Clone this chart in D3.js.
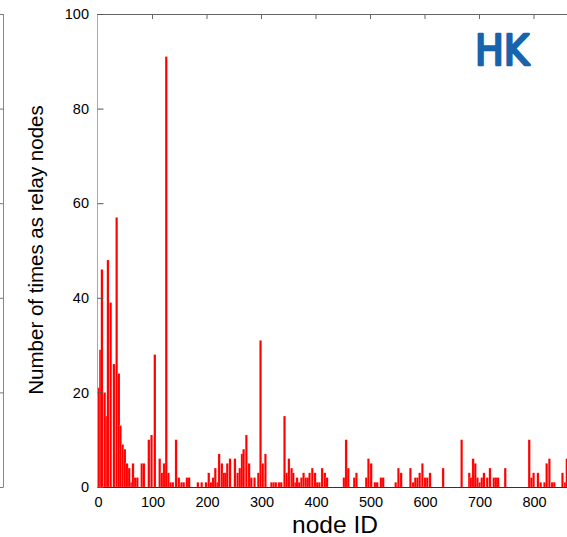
<!DOCTYPE html>
<html>
    <head>
        <script src="https://d3js.org/d3.v7.min.js"></script>
        <style>
            body { margin: 0; background: #fff; }
            svg { display: block; }
        </style>
    </head>
    <body>
        <svg width="567" height="537"></svg>

        <script>
            // node ID / relay count
            const nodeIds = [0, 3, 6, 11, 14, 17, 22, 28, 33, 37, 40, 44, 48, 52, 56, 60, 63, 67, 71, 79, 83, 92, 97, 103,
                112, 116, 120, 124, 128, 132, 136, 142, 147, 152, 156, 162, 166, 182, 189, 197, 202, 206, 210, 214, 218,
                221, 226, 230, 233, 236, 241, 250, 255, 259, 263, 266, 271, 276, 280, 286, 293, 297, 301, 306, 317, 321,
                325, 331, 335, 341, 345, 349, 354, 357, 361, 364, 368, 372, 376, 380, 384, 387, 392, 397, 401, 405, 410,
                415, 419, 450, 454, 458, 469, 473, 491, 495, 500, 507, 511, 518, 522, 545, 550, 555, 572, 577, 581, 585,
                589, 594, 599, 603, 608, 632, 666, 680, 683, 687, 691, 695, 699, 703, 707, 713, 718, 725, 729, 733, 746,
                790, 794, 798, 806, 811, 818, 822, 827, 832, 836, 851, 856, 859];
            const relayCounts = [21, 29, 46, 20, 15, 48, 39, 26, 57, 24, 13, 9, 8, 5, 4, 1, 5, 2, 2, 5, 5, 10, 11, 28,
                6, 3, 5, 91, 3, 1, 1, 10, 2, 1, 1, 2, 2, 1, 1, 1, 3, 1, 2, 4, 1,
                7, 5, 3, 3, 5, 6, 6, 3, 4, 7, 8, 11, 5, 2, 2, 3, 31, 5, 7, 1, 1,
                1, 1, 1, 15, 3, 6, 4, 3, 1, 2, 1, 2, 3, 2, 2, 3, 4, 3, 1, 1, 4,
                3, 2, 2, 10, 4, 2, 3, 2, 6, 5, 1, 1, 2, 2, 1, 4, 3, 4, 1, 2, 2,
                3, 5, 2, 2, 3, 4, 10, 3, 2, 6, 5, 2, 1, 2, 3, 2, 4, 2, 2, 2, 4,
                10, 2, 3, 3, 1, 1, 5, 6, 1, 1, 3, 1, 6];

            const xTicks = [0, 100, 200, 300, 400, 500, 600, 700, 800];
            const yTicks = [0, 20, 40, 60, 80, 100];

            const data = nodeIds.map((id, i) => ({ id: id, count: relayCounts[i] }));

            const svg = d3.select("svg");
            const font = "'Liberation Sans', Arial, sans-serif";

            // scales (plot runs off the right edge like the original crop)
            const x = d3.scaleLinear().domain([0, 900]).range([97.5, 588]);
            const y = d3.scaleLinear().domain([0, 100]).range([487, 14]);
            const barW = 4.3;

            // piece of the neighbouring panel on the far left
            svg.append("line")
                .attr("x1", 3.5).attr("x2", 3.5)
                .attr("y1", y(100)).attr("y2", y(0))
                .attr("stroke", "#888");
            svg.append("g")
                .selectAll("line")
                .data(yTicks)
                .join("line")
                .attr("x1", 0).attr("x2", 3.5)
                .attr("y1", d => y(d) + 0.5).attr("y2", d => y(d) + 0.5)
                .attr("stroke", "#777");

            // bars
            svg.append("g")
                .selectAll("rect")
                .data(data)
                .join("rect")
                .attr("x", d => x(d.id))
                .attr("width", d => x(d.id + barW) - x(d.id))
                .attr("y", d => y(d.count))
                .attr("height", d => y(0) - y(d.count))
                .attr("fill", "#ff0000")
                .attr("stroke", "rgba(255,255,255,0.35)")
                .attr("stroke-width", 0.4);

            // frame: left axis, top border, bottom baseline
            svg.append("line")
                .attr("x1", 97.5).attr("x2", 97.5)
                .attr("y1", y(100)).attr("y2", y(0))
                .attr("stroke", "#aaa");
            svg.append("line")
                .attr("x1", 97.5).attr("x2", 567)
                .attr("y1", y(100) + 0.5).attr("y2", y(100) + 0.5)
                .attr("stroke", "#666");
            svg.append("line")
                .attr("x1", 97.5).attr("x2", 567)
                .attr("y1", y(0) + 0.5).attr("y2", y(0) + 0.5)
                .attr("stroke", "#333");

            // left axis (ticks inward)
            const yAxis = svg.append("g")
                .attr("transform", "translate(97.5,0)")
                .call(d3.axisRight(y).tickValues(yTicks).tickSize(6).tickFormat(""));
            yAxis.select(".domain").remove();
            yAxis.selectAll(".tick line").attr("stroke", "#555");

            svg.append("g")
                .selectAll("text")
                .data(yTicks)
                .join("text")
                .attr("x", 89)
                .attr("y", d => y(d))
                .attr("dy", "0.36em")
                .attr("text-anchor", "end")
                .style("font-family", font)
                .style("font-size", "14.5px")
                .text(d => d);

            // top border ticks (inward)
            const topAxis = svg.append("g")
                .attr("transform", `translate(0,${y(100)})`)
                .call(d3.axisBottom(x).tickValues(xTicks.slice(1)).tickSize(5).tickFormat(""));
            topAxis.select(".domain").remove();
            topAxis.selectAll(".tick line").attr("stroke", "#666");

            // x tick labels
            svg.append("g")
                .selectAll("text")
                .data(xTicks)
                .join("text")
                .attr("x", d => x(d) + 1)
                .attr("y", 507)
                .attr("text-anchor", "middle")
                .style("font-family", font)
                .style("font-size", "14.5px")
                .text(d => d);

            // axis titles
            svg.append("text")
                .attr("x", 335)
                .attr("y", 533)
                .attr("text-anchor", "middle")
                .style("font-family", font)
                .style("font-size", "24.5px")
                .text("node ID");

            svg.append("text")
                .attr("transform", "translate(43,250) rotate(-90)")
                .attr("text-anchor", "middle")
                .style("font-family", font)
                .style("font-size", "20.5px")
                .text("Number of times as relay nodes");

            // panel label
            svg.append("text")
                .attr("x", 475)
                .attr("y", 65)
                .attr("textLength", 54)
                .attr("lengthAdjust", "spacingAndGlyphs")
                .style("font-family", "'DejaVu Sans', sans-serif")
                .style("font-size", "42px")
                .attr("fill", "#1764ad")
                .attr("stroke", "#1764ad")
                .attr("stroke-width", 2.6)
                .attr("stroke-linejoin", "round")
                .attr("stroke-linecap", "round")
                .text("HK");
        </script>
    </body>
</html>
